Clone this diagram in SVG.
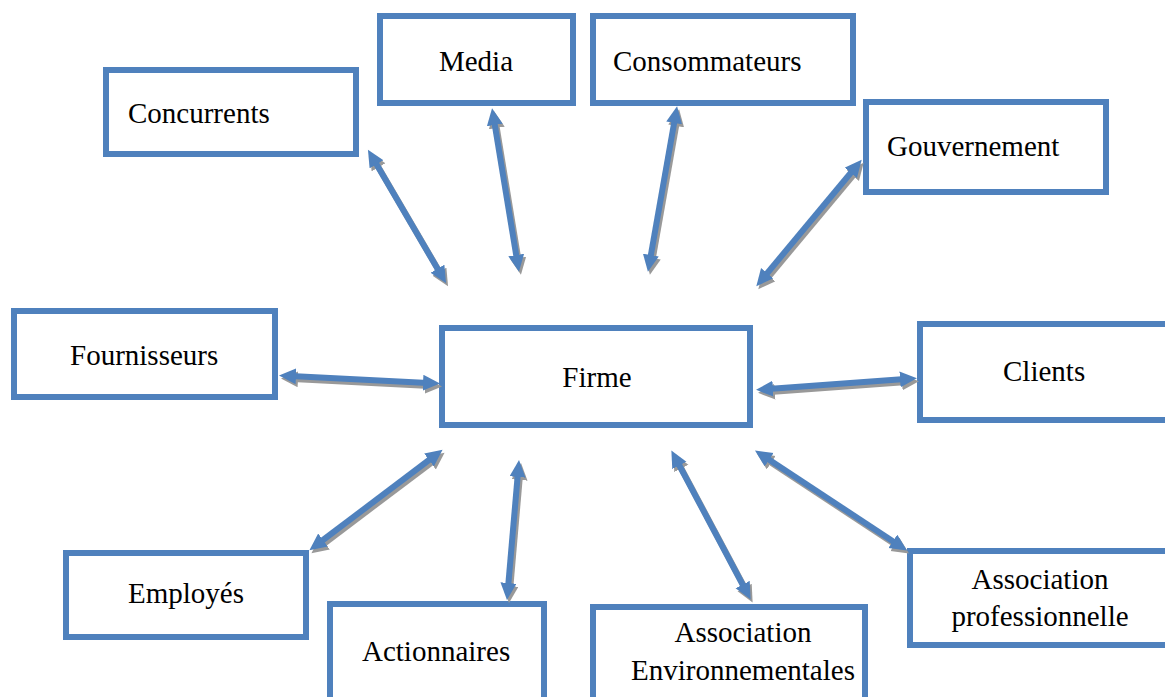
<svg xmlns="http://www.w3.org/2000/svg" width="1165" height="697" viewBox="0 0 1165 697">
<style>
.box{fill:#fff;stroke:#4f81bd;stroke-width:6}
.t{font-family:"Liberation Serif","Times New Roman",serif;font-size:29px;fill:#000}
.c{text-anchor:middle}
.a{stroke:#4f81bd;stroke-width:6;fill:none;marker-start:url(#hb);marker-end:url(#hb)}
.s{stroke:#999;stroke-width:6;fill:none;marker-start:url(#hg);marker-end:url(#hg)}
</style>
<defs>
<marker id="hb" markerUnits="userSpaceOnUse" markerWidth="18" markerHeight="17" refX="5" refY="8" orient="auto-start-reverse"><path d="M0,0 L17,8 L0,16 z" fill="#4f81bd"/></marker>
<marker id="hg" markerUnits="userSpaceOnUse" markerWidth="18" markerHeight="17" refX="5" refY="8" orient="auto-start-reverse"><path d="M0,0 L17,8 L0,16 z" fill="#999"/></marker>
</defs>
<rect width="1165" height="697" fill="#fff"/>
<g id="concurrents"><rect class="box" x="106" y="70" width="250" height="84"/><text class="t" x="128" y="123">Concurrents</text></g>
<g id="media"><rect class="box" x="380" y="16" width="193" height="87"/><text class="t c" x="476" y="71">Media</text></g>
<g id="consommateurs"><rect class="box" x="593" y="16" width="260" height="87"/><text class="t" x="613" y="71">Consommateurs</text></g>
<g id="gouvernement"><rect class="box" x="866" y="102" width="240" height="90"/><text class="t" x="887" y="156">Gouvernement</text></g>
<g id="fournisseurs"><rect class="box" x="14" y="311" width="261" height="86"/><text class="t" x="70" y="365">Fournisseurs</text></g>
<g id="firme"><rect class="box" x="442" y="328" width="308" height="97"/><text class="t c" x="597" y="387">Firme</text></g>
<g id="clients"><rect class="box" x="920" y="324" width="260" height="96"/><text class="t" x="1003" y="381">Clients</text></g>
<g id="employes"><rect class="box" x="66" y="553" width="240" height="84"/><text class="t" x="128" y="603">Employés</text></g>
<g id="actionnaires"><rect class="box" x="330" y="604" width="214" height="110"/><text class="t" x="362" y="661">Actionnaires</text></g>
<g id="environnement"><rect class="box" x="593" y="607" width="272" height="110"/><text class="t c" x="743" y="642">Association</text><text class="t c" x="743" y="680">Environnementales</text></g>
<g id="professionnelle"><rect class="box" x="910" y="551" width="270" height="94"/><text class="t c" x="1040" y="589">Association</text><text class="t c" x="1040" y="626">professionnelle</text></g>
<g id="connectors">
<g transform="translate(2,3)">
<line class="s" x1="374" y1="160" x2="440" y2="273"/>
<line class="s" x1="494" y1="120" x2="517" y2="260"/>
<line class="s" x1="675" y1="118" x2="650" y2="260"/>
<line class="s" x1="854" y1="169" x2="764" y2="277"/>
<line class="s" x1="291" y1="376" x2="428" y2="383"/>
<line class="s" x1="768" y1="389" x2="905" y2="379"/>
<line class="s" x1="319" y1="543" x2="433" y2="457"/>
<line class="s" x1="518" y1="472" x2="508" y2="588"/>
<line class="s" x1="677" y1="461" x2="745" y2="589"/>
<line class="s" x1="765" y1="457" x2="897" y2="544"/>
</g>
<line class="a" x1="374" y1="160" x2="440" y2="273"/>
<line class="a" x1="494" y1="120" x2="517" y2="260"/>
<line class="a" x1="675" y1="118" x2="650" y2="260"/>
<line class="a" x1="854" y1="169" x2="764" y2="277"/>
<line class="a" x1="291" y1="376" x2="428" y2="383"/>
<line class="a" x1="768" y1="389" x2="905" y2="379"/>
<line class="a" x1="319" y1="543" x2="433" y2="457"/>
<line class="a" x1="518" y1="472" x2="508" y2="588"/>
<line class="a" x1="677" y1="461" x2="745" y2="589"/>
<line class="a" x1="765" y1="457" x2="897" y2="544"/>
</g>
</svg>
